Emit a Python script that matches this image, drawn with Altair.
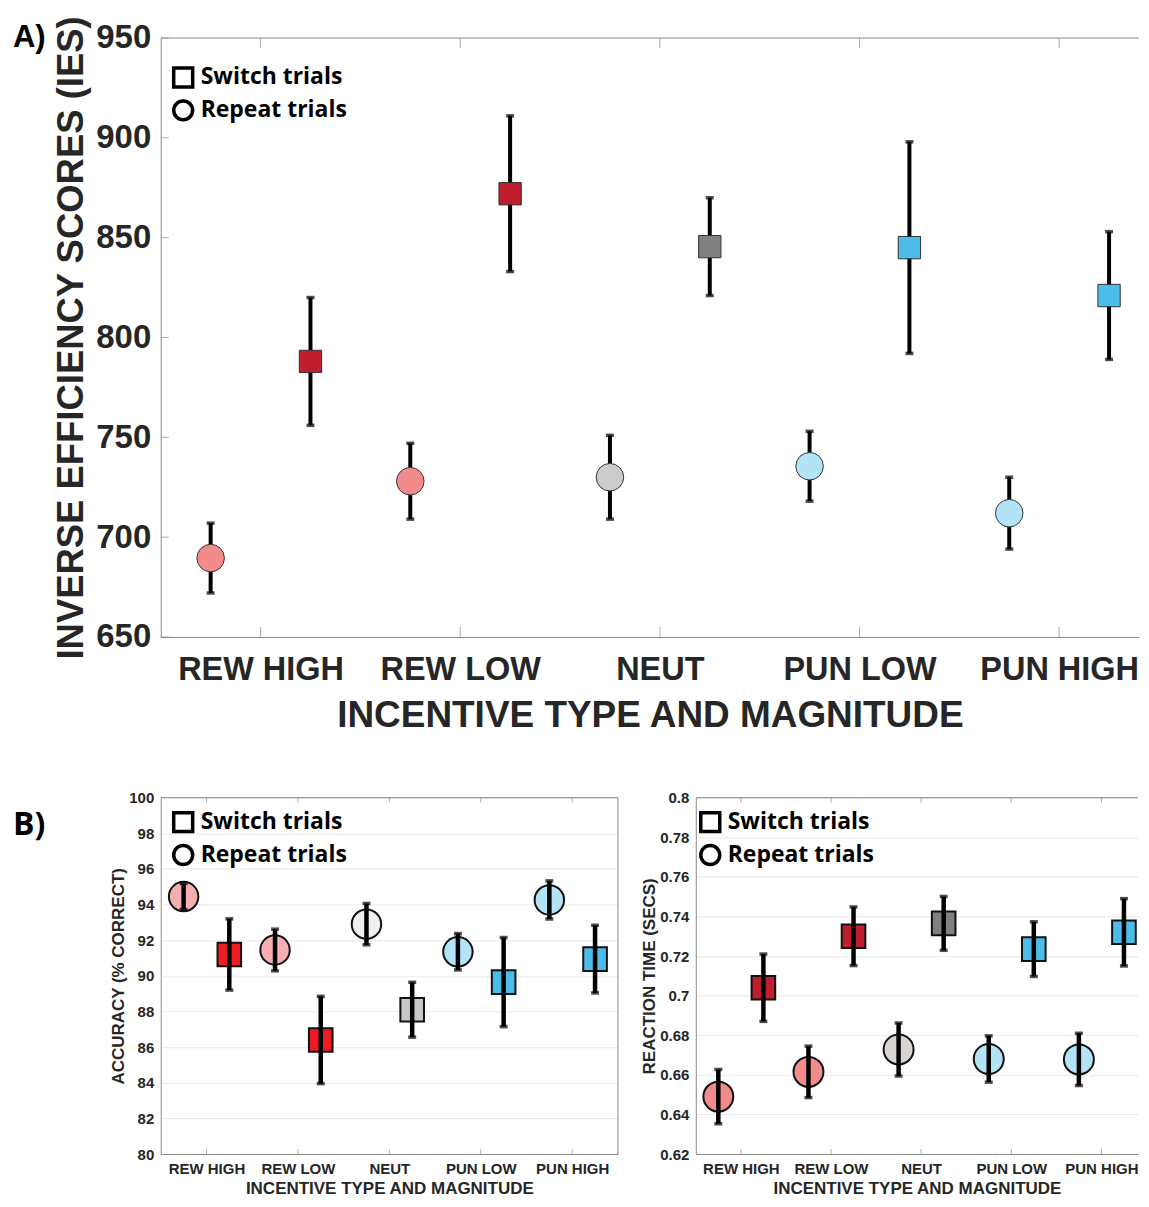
import altair as alt
import pandas as pd

# ---------------- data ----------------
categories = ["REW HIGH", "REW LOW", "NEUT", "PUN LOW", "PUN HIGH"]
cat_pos = [1, 2, 3, 4, 5]
trial_types = ["Switch trials", "Repeat trials"]
trial_shapes = ["square", "circle"]

# Panel A: inverse efficiency scores
ies_repeat_mean = [689.5, 728.0, 730.0, 735.5, 712.0]
ies_repeat_err = [17.5, 19.0, 21.0, 17.5, 18.0]
ies_switch_mean = [788.0, 872.0, 845.5, 845.0, 821.0]
ies_switch_err = [32.0, 39.0, 24.5, 53.0, 32.0]
ies_ticks = [650, 700, 750, 800, 850, 900, 950]

# Panel B left: accuracy
acc_repeat_mean = [94.45, 91.45, 92.9, 91.35, 94.26]
acc_repeat_err = [0.73, 1.17, 1.16, 1.02, 1.07]
acc_switch_mean = [91.2, 86.4, 88.1, 89.65, 90.94]
acc_switch_err = [2.0, 2.45, 1.54, 2.5, 1.9]
acc_ticks = [80, 82, 84, 86, 88, 90, 92, 94, 96, 98, 100]

# Panel B right: reaction time
rt_repeat_mean = [0.649, 0.6615, 0.6728, 0.668, 0.6678]
rt_repeat_err = [0.0137, 0.013, 0.0134, 0.0117, 0.0132]
rt_switch_mean = [0.704, 0.730, 0.7365, 0.7235, 0.732]
rt_switch_err = [0.017, 0.0148, 0.0136, 0.0138, 0.017]
rt_ticks = [0.62, 0.64, 0.66, 0.68, 0.70, 0.72, 0.74, 0.76, 0.78, 0.80]

colors_ies_repeat = ["#F28B8B", "#F28B8B", "#CCCCCC", "#B3E3F7", "#B3E3F7"]
colors_ies_switch = ["#BE1E2D", "#BE1E2D", "#808080", "#4BBDE8", "#4BBDE8"]
colors_acc_repeat = ["#F7AEB0", "#F7AEB0", "#F0F0F0", "#B3E3F7", "#B3E3F7"]
colors_acc_switch = ["#ED1C24", "#ED1C24", "#C8C8C8", "#4BBDE8", "#4BBDE8"]
colors_rt_repeat = ["#F28B8B", "#F28B8B", "#D8D4CE", "#B3E3F7", "#B3E3F7"]
colors_rt_switch = ["#BE1E2D", "#BE1E2D", "#808080", "#4BBDE8", "#4BBDE8"]

GRAY = "#8a8a8a"
TXT = "#262626"
AX_FONT = "Liberation Sans"
LEG_FONT = "Open Sans"

label_expr = "[" + ", ".join("'%s'" % c for c in categories) + "][datum.value - 1]"


def build_df(rm, re, sm, se, rc, sc):
    rows = []
    for i in range(len(categories)):
        rows.append({"cat": categories[i], "xpos": cat_pos[i] - 0.25, "trial": trial_types[1],
                     "mean": rm[i], "lo": rm[i] - re[i], "hi": rm[i] + re[i], "col": rc[i]})
        rows.append({"cat": categories[i], "xpos": cat_pos[i] + 0.25, "trial": trial_types[0],
                     "mean": sm[i], "lo": sm[i] - se[i], "hi": sm[i] + se[i], "col": sc[i]})
    return pd.DataFrame(rows)


def panel(df, p):
    xs = alt.Scale(domain=[0.5, p["xmax"]], nice=False, zero=False)
    ys = alt.Scale(domain=[p["ymin"], p["ymax"]], nice=False, zero=False)
    xa = alt.Axis(values=cat_pos, labelExpr=label_expr, title="INCENTIVE TYPE AND MAGNITUDE",
                  ticks=False, grid=False, domainColor=GRAY, domainWidth=1,
                  labelFont=AX_FONT, labelFontSize=p["xlfs"], labelFontWeight="bold",
                  labelColor=TXT, labelPadding=p["xlp"], labelOverlap=False,
                  titleFont=AX_FONT, titleFontSize=p["tfs"], titleFontWeight="bold",
                  titleColor=TXT, titlePadding=p["xtp"])
    ya = alt.Axis(values=p["yticks"], format=p["yfmt"], title=p["ytitle"],
                  ticks=False, grid=p["grid"], gridColor="#e8e8e8", gridWidth=1,
                  domainColor=GRAY, domainWidth=1,
                  labelFont=AX_FONT, labelFontSize=p["lfs"], labelFontWeight="bold",
                  labelColor=TXT, labelPadding=p["ylp"], labelOverlap=False,
                  titleFont=AX_FONT, titleFontSize=p["ytfs"], titleFontWeight="bold",
                  titleColor=TXT, titlePadding=p["ytp"])

    def X(field=None, datum=None):
        if datum is not None:
            return alt.X(datum=datum, scale=xs, axis=xa)
        return alt.X(field, scale=xs, axis=xa)

    def Y(field=None, datum=None):
        if datum is not None:
            return alt.Y(datum=datum, scale=ys, axis=ya)
        return alt.Y(field, scale=ys, axis=ya)

    base = alt.Chart(df)
    one = alt.Chart(pd.DataFrame({"a": [0]}))
    pos_df = alt.Chart(pd.DataFrame({"pos": cat_pos}))

    layers = []
    # legend carrier: small hollow points hidden beneath the coloured markers
    layers.append(base.mark_point(filled=False, color="black", strokeWidth=3.5, size=30,
                                  opacity=1).encode(
        x=X("xpos:Q"), y=Y("mean:Q"),
        shape=alt.Shape("trial:N", scale=alt.Scale(domain=trial_types, range=trial_shapes),
                        legend=alt.Legend(title=None, orient="none", legendX=p["legX"],
                                          legendY=p["legY"], symbolSize=361,
                                          symbolStrokeWidth=3.5, symbolStrokeColor="black",
                                          symbolFillColor="white", labelFont=LEG_FONT,
                                          labelFontSize=p["leg_fs"], labelFontWeight="bold",
                                          labelColor="black", labelOffset=6, rowPadding=0,
                                          padding=0))))
    # frame: top border (and right border where visible)
    layers.append(one.mark_rule(color=GRAY, strokeWidth=1).encode(y=Y(datum=p["ymax"])))
    if p["right_border"]:
        layers.append(one.mark_rule(color=GRAY, strokeWidth=1).encode(x=X(datum=p["xmax"])))
    # inward ticks on bottom and top
    tl = p["tick_len"]
    layers.append(pos_df.mark_tick(orient="vertical", size=tl, thickness=1, color=GRAY,
                                   yOffset=-tl / 2).encode(x=X("pos:Q"), y=Y(datum=p["ymin"])))
    layers.append(pos_df.mark_tick(orient="vertical", size=tl, thickness=1, color=GRAY,
                                   yOffset=tl / 2).encode(x=X("pos:Q"), y=Y(datum=p["ymax"])))
    if p["ytick_len"] > 0:
        ytl = p["ytick_len"]
        layers.append(alt.Chart(pd.DataFrame({"v": p["yticks"]})).mark_tick(
            orient="horizontal", size=ytl, thickness=1, color=GRAY, xOffset=ytl / 2).encode(
            y=Y("v:Q"), x=X(datum=0.5)))

    err = base.mark_rule(color="black", strokeWidth=p["bar_w"]).encode(
        x=X("xpos:Q"), y=Y("lo:Q"), y2="hi:Q")
    cap_lo = base.mark_tick(orient="horizontal", size=p["cap_w"], thickness=3.5,
                            color="black").encode(x=X("xpos:Q"), y=Y("lo:Q"))
    cap_hi = base.mark_tick(orient="horizontal", size=p["cap_w"], thickness=3.5,
                            color="black").encode(x=X("xpos:Q"), y=Y("hi:Q"))

    circles = base.transform_filter(alt.datum.trial == trial_types[1]).mark_point(
        shape="circle", filled=True, size=p["circ_size"], stroke=p["mstroke"],
        strokeWidth=p["msw"], opacity=1).encode(
        x=X("xpos:Q"), y=Y("mean:Q"), fill=alt.Fill("col:N", scale=None))
    squares = base.transform_filter(alt.datum.trial == trial_types[0]).mark_point(
        shape="square", filled=True, size=p["sq_size"], stroke=p["mstroke"],
        strokeWidth=p["msw"], opacity=1).encode(
        x=X("xpos:Q"), y=Y("mean:Q"), fill=alt.Fill("col:N", scale=None))

    if p["err_on_top"]:
        layers += [circles, squares, err, cap_lo, cap_hi]
    else:
        layers += [err, cap_lo, cap_hi, circles, squares]

    if p["tag"]:
        layers.append(alt.Chart(pd.DataFrame({"t": [p["tag"]]})).mark_text(
            align="left", baseline="alphabetic", font=p["tag_font"], fontSize=p["tag_size"],
            fontWeight="bold", color="black").encode(
            text="t:N", x=alt.value(p["tag_x"]), y=alt.value(p["tag_y"])))

    return alt.layer(*layers).properties(width=p["width"], height=p["height"])


panel_a = panel(
    build_df(ies_repeat_mean, ies_repeat_err, ies_switch_mean, ies_switch_err,
             colors_ies_repeat, colors_ies_switch),
    dict(xmax=5.4, ymin=650, ymax=950, yticks=ies_ticks, yfmt="d",
         ytitle="INVERSE EFFICIENCY SCORES (IES)", grid=False, lfs=33, xlfs=32.5, tfs=37,
         ytfs=36.5, xlp=17, xtp=11, ylp=10, ytp=5, right_border=False, tick_len=10,
         ytick_len=8, legX=11, legY=28, leg_fs=23, bar_w=4, cap_w=8, circ_size=760,
         sq_size=500, mstroke="#333333", msw=1, err_on_top=False, tag="A)",
         tag_font=AX_FONT, tag_size=31, tag_x=-148, tag_y=9, width=980, height=600))

panel_bl = panel(
    build_df(acc_repeat_mean, acc_repeat_err, acc_switch_mean, acc_switch_err,
             colors_acc_repeat, colors_acc_switch),
    dict(xmax=5.5, ymin=80, ymax=100, yticks=acc_ticks, yfmt="d",
         ytitle="ACCURACY (% CORRECT)", grid=True, lfs=15, xlfs=15, tfs=17, ytfs=17,
         xlp=8, xtp=4, ylp=7, ytp=1, right_border=True, tick_len=5, ytick_len=0,
         legX=11, legY=13, leg_fs=23, bar_w=4.5, cap_w=8, circ_size=870, sq_size=560,
         mstroke="#111111", msw=2, err_on_top=True, tag="B)", tag_font=LEG_FONT,
         tag_size=32, tag_x=-148, tag_y=37, width=458, height=357))

panel_br = panel(
    build_df(rt_repeat_mean, rt_repeat_err, rt_switch_mean, rt_switch_err,
             colors_rt_repeat, colors_rt_switch),
    dict(xmax=5.406, ymin=0.62, ymax=0.80, yticks=rt_ticks, yfmt=".2~f",
         ytitle="REACTION TIME (SECS)", grid=True, lfs=15, xlfs=15, tfs=17, ytfs=17,
         xlp=8, xtp=4, ylp=7, ytp=1, right_border=False, tick_len=5, ytick_len=0,
         legX=3, legY=13, leg_fs=23, bar_w=4.5, cap_w=8, circ_size=900, sq_size=560,
         mstroke="#111111", msw=2, err_on_top=True, tag="", tag_font=LEG_FONT,
         tag_size=32, tag_x=0, tag_y=0, width=443, height=357))

top_row = alt.hconcat(panel_a).resolve_scale(shape="independent").resolve_legend(
    shape="independent")
bottom_row = alt.hconcat(panel_bl, panel_br, spacing=21).resolve_scale(
    shape="independent").resolve_legend(shape="independent")

chart = alt.vconcat(top_row, bottom_row, spacing=56).resolve_scale(
    shape="independent").resolve_legend(shape="independent").properties(
    padding={"left": 4, "top": 6, "right": 0, "bottom": 0}).configure_view(
    stroke="transparent")

chart.save("out.html", embed_options={"renderer": "svg", "actions": False})
